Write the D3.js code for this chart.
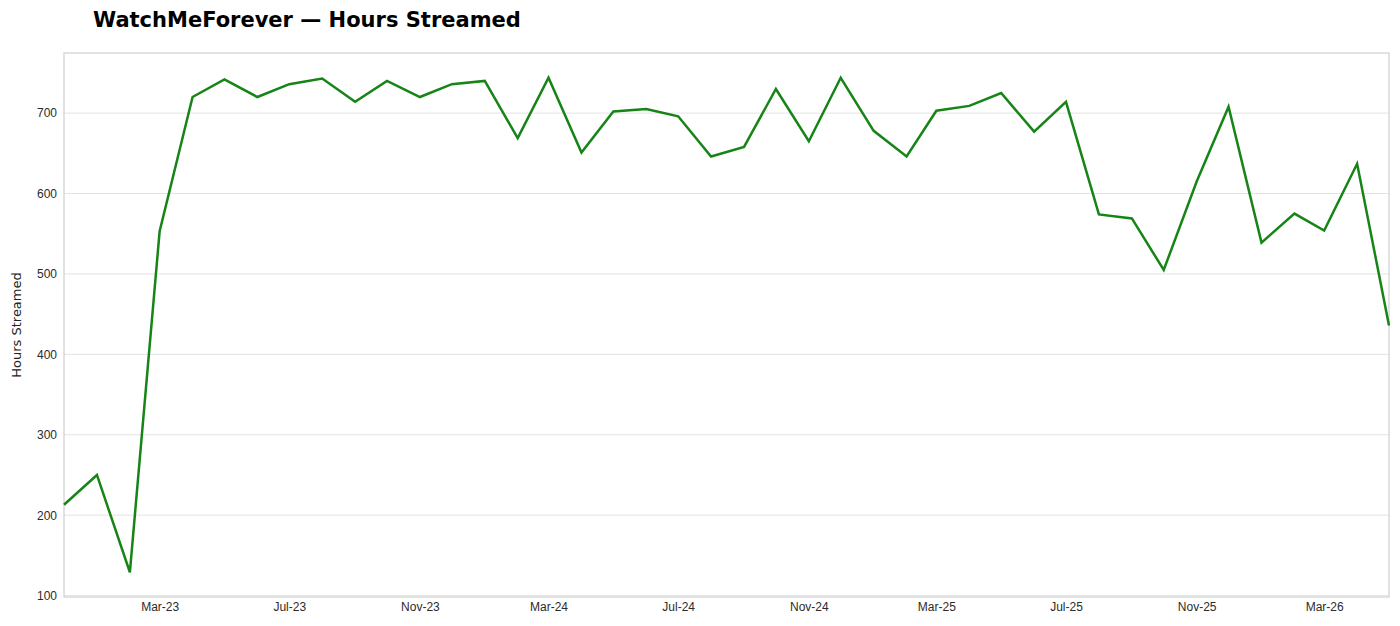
<!DOCTYPE html>
<html>
<head>
<meta charset="utf-8">
<script src="https://cdn.jsdelivr.net/npm/d3@7"></script>
<style>
  body { margin: 0; background: #fff; }
  svg { font-family: "DejaVu Sans", sans-serif; display: block; }
  .grid line { stroke: #e3e3e3; stroke-width: 1; }
  .axis text { fill: #2b2b2b; font-size: 12px; }
  .axis path, .axis line { display: none; }
</style>
</head>
<body>
<div id="chart"></div>
<script>
// monthly hours streamed, Dec 2022 .. May 2026
const months = [
  "2022-12", "2023-01", "2023-02", "2023-03", "2023-04", "2023-05", "2023-06",
  "2023-07", "2023-08", "2023-09", "2023-10", "2023-11", "2023-12", "2024-01",
  "2024-02", "2024-03", "2024-04", "2024-05", "2024-06", "2024-07", "2024-08",
  "2024-09", "2024-10", "2024-11", "2024-12", "2025-01", "2025-02", "2025-03",
  "2025-04", "2025-05", "2025-06", "2025-07", "2025-08", "2025-09", "2025-10",
  "2025-11", "2025-12", "2026-01", "2026-02", "2026-03", "2026-04", "2026-05"
];
const hours = [
  213, 250, 129, 553, 720, 742, 720,
  736, 743, 714, 740, 720, 736, 740,
  669, 744, 651, 702, 705, 696, 646,
  658, 730, 665, 744, 678, 646, 703,
  709, 725, 677, 714, 574, 569, 505,
  615, 708, 539, 575, 554, 637, 436
];
const yTicks = [100, 200, 300, 400, 500, 600, 700];

const title = "WatchMeForever \u2014 Hours Streamed";
const yLabel = "Hours Streamed";

const width = 1400, height = 626;
const margin = { top: 53, right: 11, bottom: 29, left: 64 };

const parseMonth = d3.timeParse("%Y-%m");
const data = months.map((m, i) => ({ date: parseMonth(m), value: hours[i] }));

const svg = d3.select("#chart").append("svg")
  .attr("width", width)
  .attr("height", height)
  .attr("viewBox", [0, 0, width, height]);

const x = d3.scaleTime()
  .domain(d3.extent(data, d => d.date))
  .range([margin.left, width - margin.right]);

// 5% padding like matplotlib's default
const [yMin, yMax] = d3.extent(data, d => d.value);
const pad = (yMax - yMin) * 0.05;
const y = d3.scaleLinear()
  .domain([yMin - pad, yMax + pad])
  .range([height - margin.bottom, margin.top]);

// horizontal gridlines
svg.append("g")
  .attr("class", "grid")
  .selectAll("line")
  .data(yTicks)
  .join("line")
  .attr("x1", margin.left)
  .attr("x2", width - margin.right)
  .attr("y1", d => y(d))
  .attr("y2", d => y(d));

// plot frame
svg.append("rect")
  .attr("x", margin.left)
  .attr("y", margin.top)
  .attr("width", width - margin.left - margin.right)
  .attr("height", height - margin.top - margin.bottom)
  .attr("fill", "none")
  .attr("stroke", "#cfcfcf")
  .attr("stroke-width", 1.2);

// x-axis, a tick every 4 months starting at March
const xTicks = data.map(d => d.date).filter(d => d.getMonth() % 4 === 2);
svg.append("g")
  .attr("class", "axis x-axis")
  .attr("transform", `translate(0,${height - margin.bottom})`)
  .call(d3.axisBottom(x)
    .tickValues(xTicks)
    .tickFormat(d3.timeFormat("%b-%y"))
    .tickSize(0)
    .tickPadding(5));

// y-axis
svg.append("g")
  .attr("class", "axis y-axis")
  .attr("transform", `translate(${margin.left},0)`)
  .call(d3.axisLeft(y)
    .tickValues(yTicks)
    .tickSize(0)
    .tickPadding(7));

// y label
svg.append("text")
  .attr("transform", `translate(21,${(margin.top + height - margin.bottom) / 2}) rotate(-90)`)
  .attr("text-anchor", "middle")
  .attr("font-size", 13)
  .attr("fill", "#222")
  .text(yLabel);

// title
svg.append("text")
  .attr("x", 93)
  .attr("y", 27)
  .attr("font-size", 21)
  .attr("font-weight", "bold")
  .attr("fill", "#000")
  .text(title);

// the line
const line = d3.line()
  .x(d => x(d.date))
  .y(d => y(d.value));

svg.append("path")
  .datum(data)
  .attr("fill", "none")
  .attr("stroke", "#178417")
  .attr("stroke-width", 2.5)
  .attr("d", line);
</script>
</body>
</html>
